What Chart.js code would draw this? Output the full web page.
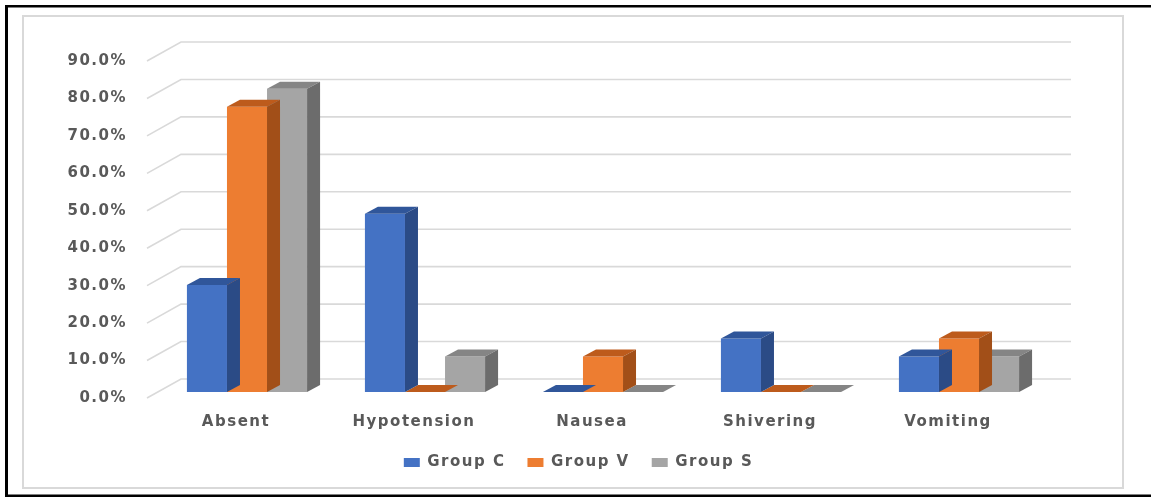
<!DOCTYPE html>
<html>
<head>
<meta charset="utf-8">
<script src="https://cdn.jsdelivr.net/npm/chart.js@4.4.1/dist/chart.umd.min.js"></script>
<style>
html,body{margin:0;padding:0;background:#fff;overflow:hidden}
#wrap{position:absolute;left:0;top:0;width:1151px;height:497px}
</style>
</head>
<body>
<div id="wrap"><canvas id="c"></canvas></div>
<script>
// ---- data ----
const categories = ['Absent', 'Hypotension', 'Nausea', 'Shivering', 'Vomiting'];
const seriesNames = ['Group C', 'Group V', 'Group S'];
const groupC = [28.6, 47.6, 0, 14.3, 9.5];
const groupV = [76.2, 0, 9.5, 0, 14.3];
const groupS = [81.0, 9.5, 0, 0, 9.5];
const yTickValues = [0, 10, 20, 30, 40, 50, 60, 70, 80, 90];

// ---- style ----
const frontColors = ['#4472c4', '#ed7d31', '#a5a5a5'];
const topColors = ['#30569a', '#bd5b1c', '#858585'];
const sideColors = ['#2b4b86', '#a24f18', '#6c6c6c'];
const textColor = '#595959';
const FONT = '"DejaVu Sans", Verdana, sans-serif';
const BAR_DX = 13, BAR_DY = -7;          // bar depth projection
const WALL_FRONT = {dx: -11, dy: 6};     // floor front edge relative to bar plane
const WALL_BACK = {dx: 23, dy: -13};     // back wall relative to bar plane

const deco = {
  id: 'deco',
  beforeUpdate(chart) { chart.ctx.letterSpacing = '1.5px'; },
  beforeDraw(chart) {
    const ctx = chart.ctx, W = chart.width, H = chart.height;
    ctx.save();
    ctx.fillStyle = '#fff';
    ctx.fillRect(0, 0, W, H);
    ctx.fillStyle = '#000';
    ctx.fillRect(5, 5, W - 5, 2.5);
    ctx.fillRect(5, 5, 3, H - 5);
    ctx.fillRect(5, 494.5, W - 5, 2.5);
    ctx.strokeStyle = '#d9d9d9';
    ctx.lineWidth = 2;
    ctx.strokeRect(23, 16, 1100, 472);
    ctx.restore();
  },
  beforeDatasetsDraw(chart) {
    const ctx = chart.ctx, ys = chart.scales.y, a = chart.chartArea;
    ctx.save();
    ctx.strokeStyle = '#d9d9d9';
    ctx.lineWidth = 1.6;
    yTickValues.forEach(v => {
      const py = ys.getPixelForValue(v);
      ctx.beginPath();
      ctx.moveTo(a.left + WALL_FRONT.dx, py + WALL_FRONT.dy);
      ctx.lineTo(a.left + WALL_BACK.dx, py + WALL_BACK.dy);
      ctx.lineTo(a.right + WALL_BACK.dx, py + WALL_BACK.dy);
      ctx.stroke();
    });
    ctx.restore();
  },
  afterDatasetDraw(chart, args) {
    const ctx = chart.ctx, i = args.index;
    ctx.save();
    args.meta.data.forEach(bar => {
      const p = bar.getProps(['x', 'y', 'base', 'width'], true);
      const x0 = p.x - p.width / 2, x1 = p.x + p.width / 2;
      const yt = Math.min(p.y, p.base), yb = Math.max(p.y, p.base);
      // top face
      ctx.fillStyle = topColors[i];
      ctx.beginPath();
      ctx.moveTo(x0, yt);
      ctx.lineTo(x1, yt);
      ctx.lineTo(x1 + BAR_DX, yt + BAR_DY);
      ctx.lineTo(x0 + BAR_DX, yt + BAR_DY);
      ctx.closePath();
      ctx.fill();
      // side face
      if (yb - yt > 0.5) {
        ctx.fillStyle = sideColors[i];
        ctx.beginPath();
        ctx.moveTo(x1, yt);
        ctx.lineTo(x1 + BAR_DX, yt + BAR_DY);
        ctx.lineTo(x1 + BAR_DX, yb + BAR_DY);
        ctx.lineTo(x1, yb);
        ctx.closePath();
        ctx.fill();
      }
    });
    ctx.restore();
  }
};

const seriesValues = [groupC, groupV, groupS];

new Chart(document.getElementById('c'), {
  type: 'bar',
  data: {
    labels: categories,
    datasets: seriesNames.map((name, i) => ({
      label: name,
      data: seriesValues[i],
      backgroundColor: frontColors[i],
      borderWidth: 0,
      barPercentage: 1,
      categoryPercentage: 0.675
    }))
  },
  options: {
    responsive: true,
    maintainAspectRatio: false,
    animation: false,
    layout: {padding: {left: 20, right: 14, top: 55, bottom: 17}},
    plugins: {
      legend: {
        position: 'bottom',
        labels: {
          boxWidth: 16, boxHeight: 9, padding: 22,
          color: textColor,
          font: {family: FONT, size: 15, weight: 'bold'}
        }
      },
      tooltip: {enabled: false}
    },
    scales: {
      x: {
        grid: {display: false},
        border: {display: false},
        ticks: {
          color: textColor,
          font: {family: FONT, size: 15, weight: 'bold'},
          padding: 13,
          labelOffset: -11,
          maxRotation: 0
        },
        afterFit(s) { s.height = 41; }
      },
      y: {
        min: 0, max: 90,
        afterBuildTicks(s) { s.ticks = yTickValues.map(v => ({value: v})); },
        grid: {display: false, drawTicks: false},
        border: {display: false},
        ticks: {
          color: textColor,
          font: {family: FONT, size: 15, weight: 'bold'},
          padding: 31,
          labelOffset: 6,
          callback: v => v.toFixed(1) + '%'
        },
        afterFit(s) { s.width = 138; }
      },
      yR: {
        position: 'right',
        min: 0, max: 90,
        grid: {display: false},
        border: {display: false},
        ticks: {display: false},
        afterFit(s) { s.width = 89; }
      }
    }
  },
  plugins: [deco]
});
</script>
</body>
</html>
